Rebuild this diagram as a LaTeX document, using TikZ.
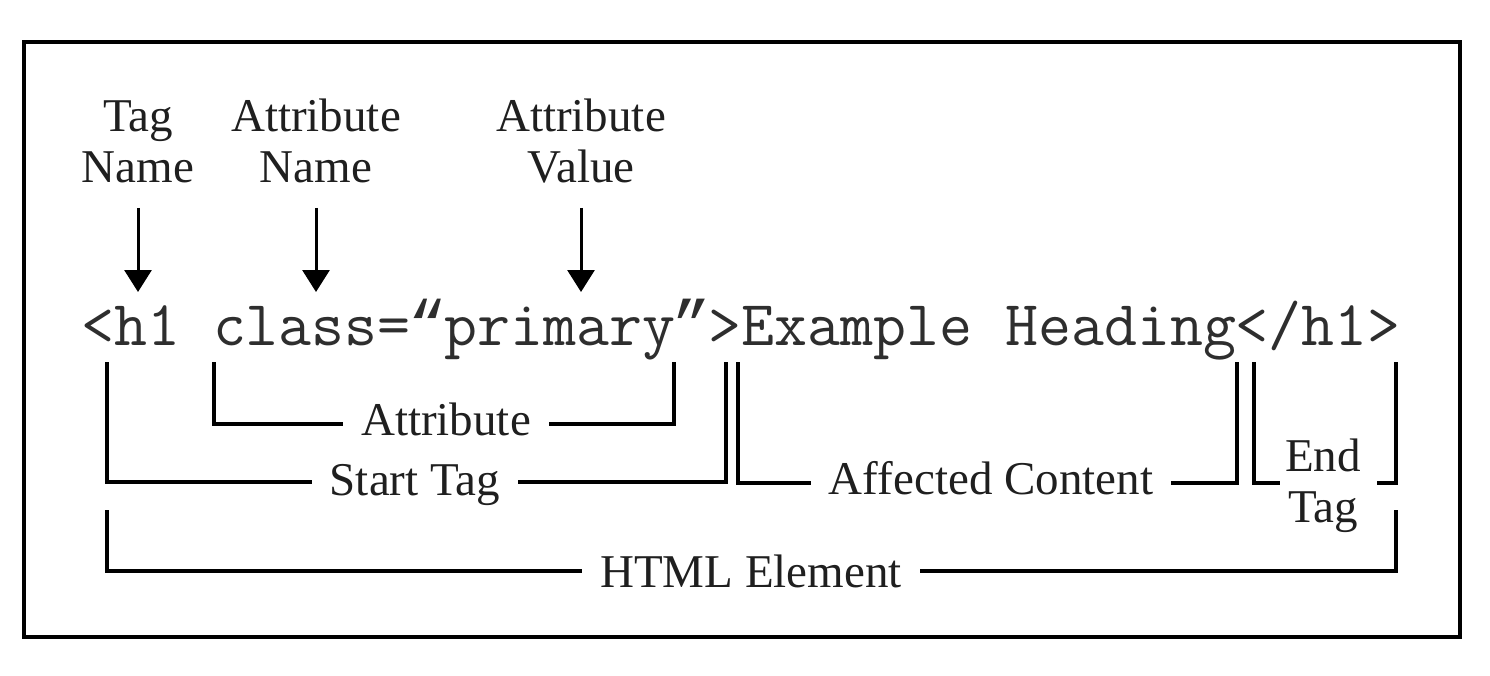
\documentclass[tikz,border=0pt]{standalone}
\usepackage{fontspec}
\setmainfont{Liberation Serif}
\newfontfamily\quotefont{Liberation Mono}
\newcommand{\cq}[1]{\makebox[0.525em][c]{\quotefont #1}}
\usetikzlibrary{arrows.meta}
\begin{document}
\begin{tikzpicture}[x=1pt,y=-1pt,
  lbl/.style={font=\fontsize{47}{51}\selectfont, inner xsep=18pt, inner ysep=0pt, text=black!88, align=center},
  br/.style={line width=3.5pt, line cap=butt, line join=miter},
  arr/.style={line width=3pt, -{Triangle[width=27pt,length=22pt]}},
  code/.style={font=\ttfamily\fontsize{64}{68}\selectfont, inner sep=0pt, text=black!82}]
\useasboundingbox (0,0) rectangle (1490,676);
\draw[line width=4pt] (24,42.5) rectangle (1460,637);

% top labels
\node[lbl, anchor=south] (tagname) at (138,183) {Tag\\Name};
\node[lbl, anchor=south] (attname) at (316,183) {Attribute\\Name};
\node[lbl, anchor=south] (attval)  at (581,183) {Attribute\\Value};

% code line
\node[code, anchor=base] (codeline) at (741,345) {<h1 class=\cq{“}primary\cq{”}>Example Heading</h1>};

% arrow tips
\coordinate (tagtip) at (138,292);
\coordinate (atntip) at (316,292);
\coordinate (atvtip) at (581,292);
\draw[arr] ([yshift=-25pt]tagname.south) -- (tagtip);
\draw[arr] ([yshift=-25pt]attname.south) -- (atntip);
\draw[arr] ([yshift=-25pt]attval.south) -- (atvtip);

% lower labels
\node[lbl, anchor=base] (attrlbl)  at (446,435) {Attribute};
\node[lbl, anchor=base] (startlbl) at (415,495) {Start Tag};
\node[lbl, anchor=base] (afflbl)   at (991,494) {Affected Content};
\node[lbl, anchor=south, inner xsep=0pt] (endlbl) at (1323,533) {End\\Tag};
\node[lbl, anchor=base] (htmllbl)  at (751,587) {HTML Element};

% bracket corner points
\coordinate (attL) at (214,362);
\coordinate (attR) at (674,362);
\coordinate (attY) at (0,424);
\coordinate (stL)  at (107,362);
\coordinate (stR)  at (726,362);
\coordinate (stY)  at (0,482);
\coordinate (afL)  at (738,362);
\coordinate (afR)  at (1237,362);
\coordinate (afY)  at (0,483);
\coordinate (enL)  at (1254,362);
\coordinate (enR)  at (1396,362);
\coordinate (enLe) at (1280,483);
\coordinate (enRe) at (1377,483);
\coordinate (hL)   at (107,510);
\coordinate (hR)   at (1396,510);
\coordinate (hY)   at (0,571);

% brackets
\draw[br] (attL) |- (attrlbl.west |- attY);
\draw[br] (attR) |- (attrlbl.east |- attY);
\draw[br] (stL) |- (startlbl.west |- stY);
\draw[br] (stR) |- (startlbl.east |- stY);
\draw[br] (afL) |- (afflbl.west |- afY);
\draw[br] (afR) |- (afflbl.east |- afY);
\draw[br] (enL) |- (enLe);
\draw[br] (enR) |- (enRe);
\draw[br] (hL) |- (htmllbl.west |- hY);
\draw[br] (hR) |- (htmllbl.east |- hY);
\end{tikzpicture}
\end{document}
